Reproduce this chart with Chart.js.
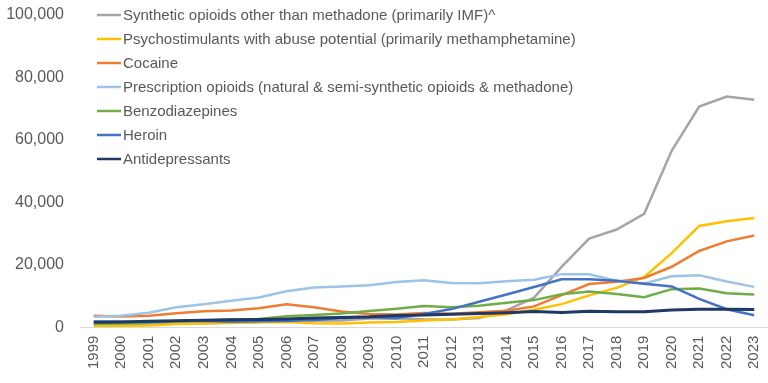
<!DOCTYPE html>
<html><head><meta charset="utf-8">
<script src="https://cdn.jsdelivr.net/npm/chart.js@4/dist/chart.umd.min.js"></script>
<style>html,body{margin:0;padding:0;background:#fff;overflow:hidden}#wrap{width:768px;height:394px;margin-top:-11px}</style>
</head><body><div id="wrap"><canvas id="c"></canvas></div>
<script>
const years = ["1999","2000","2001","2002","2003","2004","2005","2006","2007","2008","2009","2010","2011","2012","2013","2014","2015","2016","2017","2018","2019","2020","2021","2022","2023"];
const seriesNames = [
  "Synthetic opioids other than methadone (primarily IMF)^",
  "Psychostimulants with abuse potential (primarily methamphetamine)",
  "Cocaine",
  "Prescription opioids (natural & semi-synthetic opioids & methadone)",
  "Benzodiazepines",
  "Heroin",
  "Antidepressants"
];
const synthetic = [730,782,957,1295,1400,1664,1742,2707,2213,2306,2946,3007,2666,2628,3105,5544,9580,19413,28466,31335,36359,56516,70601,73838,72776];
const psychostim = [547,578,690,1123,1300,1500,1700,1800,1400,1300,1600,1800,2300,2600,3400,4300,5700,7500,10300,12700,16200,23800,32500,34000,35000];
const cocaine = [3822,3544,3833,4599,5199,5443,6208,7448,6512,5129,4350,4183,4681,4404,4944,5415,6784,10375,13942,14666,15883,19447,24486,27569,29449];
const rxOpioids = [3442,3785,4770,6483,7456,8577,9612,11589,12796,13149,13523,14583,15140,14240,14145,14838,15281,17087,17029,14975,14139,16416,16706,14716,13026];
const benzos = [1135,1298,1594,2045,2248,2603,2757,3611,4022,4507,5276,6031,6872,6524,6973,7945,8791,10684,11537,10724,9711,12290,12499,10964,10600];
const heroin = [1960,1842,1779,2089,2080,1878,2009,2088,2399,3041,3278,3036,4397,5925,8257,10574,12989,15469,15482,14996,14019,13165,9173,5871,3984];
const antidep = [1749,1834,2012,2212,2396,2544,2601,2744,3068,3251,3468,3889,4030,4290,4498,4792,5189,4838,5269,5064,5096,5597,5863,5900,5800];
const yTicks = [0,20000,40000,60000,80000,100000];

const values = [synthetic, psychostim, cocaine, rxOpioids, benzos, heroin, antidep];
const colors = ["#A5A5A5","#FFC000","#ED7D31","#9DC3E6","#70AD47","#4472C4","#1F3864"];

const legendPlugin = {
  id: 'customLegend',
  afterDraw(chart) {
    const ctx = chart.ctx;
    ctx.save();
    ctx.font = '15px "Liberation Sans", Arial, sans-serif';
    ctx.textBaseline = 'middle';
    chart.data.datasets.forEach((ds, i) => {
      const y = 15 + 11 + i * 24;
      ctx.strokeStyle = ds.borderColor;
      ctx.lineWidth = 2.5;
      ctx.beginPath(); ctx.moveTo(97, y); ctx.lineTo(121, y); ctx.stroke();
      ctx.fillStyle = '#595959';
      ctx.fillText(ds.label, 123, y + 1);
    });
    ctx.restore();
  }
};

new Chart(document.getElementById('c'), {
  type: 'line',
  data: {
    labels: years,
    datasets: seriesNames.map((n, i) => ({
      label: n, data: values[i], borderColor: colors[i], backgroundColor: colors[i],
      borderWidth: i === 6 ? 3 : 2.5, pointRadius: 0, tension: 0, order: 6 - i
    }))
  },
  options: {
    responsive: true, maintainAspectRatio: false, animation: false,
    layout: { padding: { top: 4, right: 0, bottom: 6, left: 0 } },
    plugins: { legend: { display: false }, tooltip: { enabled: false } },
    scales: {
      x: {
        offset: true,
        afterFit(scale) { scale.paddingRight = 0; scale.paddingLeft = 0; },
        grid: { display: false, drawTicks: false, offset: true },
        border: { display: true, color: '#D9D9D9', width: 1 },
        ticks: { color: '#595959', font: { family: '"Liberation Sans", Arial, sans-serif', size: 15 }, minRotation: 90, maxRotation: 90, padding: 8, autoSkip: false }
      },
      y: {
        min: 0, max: 100000,
        afterBuildTicks(scale) { scale.ticks = yTicks.map(v => ({ value: v })); },
        afterFit(scale) { scale.width = 80; },
        grid: { display: false, drawTicks: false },
        border: { display: false },
        ticks: { color: '#595959', font: { family: '"Liberation Sans", Arial, sans-serif', size: 16 }, padding: 16,
          callback: v => v.toLocaleString('en-US') }
      }
    }
  },
  plugins: [legendPlugin]
});
</script></body></html>
